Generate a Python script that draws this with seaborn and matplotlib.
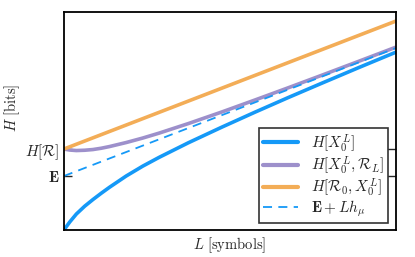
import numpy as np
import pandas as pd
import matplotlib
matplotlib.use('Agg')
import matplotlib.pyplot as plt
import seaborn as sns

#data (L in symbols, H in bits)
L_curve = [0, 0.35, 0.75, 1.25, 1.75, 2.25, 2.75, 3.75, 4.75, 5.75, 7.5, 9.5, 11.5, 13.5, 15.5, 17.75, 20]
H_X = [0.0, 0.8, 1.6, 2.38, 3.05, 3.68, 4.28, 5.4, 6.39, 7.28, 8.73, 10.28, 11.78, 13.24, 14.66, 16.24, 17.79]
H_XR = [8.1, 8.0, 7.95, 7.98, 8.05, 8.18, 8.35, 8.75, 9.2, 9.7, 10.65, 11.8, 13.0, 14.22, 15.46, 16.87, 18.29]
L_line = [0, 20]
H_RX = [8.1, 20.9]
E_line = [5.4, 18.2]
tick_vals = [5.4, 8.1]
tick_labels = [r'$\mathbf{E}$', r'$H[\mathcal{R}]$']

sns.set_style('ticks')
plt.rcParams['mathtext.fontset'] = 'cm'
plt.rcParams['font.family'] = ['DejaVu Serif']

blue = '#1599f7'
purple = '#9d90cb'
orange = '#f3ad57'

fig = plt.figure(figsize=(4.15, 2.57), dpi=100)
ax = fig.add_axes([0.154, 0.105, 0.8, 0.848])

sns.lineplot(x=L_curve, y=H_X, color=blue, lw=2.6, ax=ax, label=r'$H[X_0^L]$')
sns.lineplot(x=L_curve, y=H_XR, color=purple, lw=2.6, ax=ax, label=r'$H[X_0^L,\mathcal{R}_L]$')
sns.lineplot(x=L_line, y=H_RX, color=orange, lw=2.6, ax=ax, label=r'$H[\mathcal{R}_0,X_0^L]$')
sns.lineplot(x=L_line, y=E_line, color=blue, lw=1.3, ax=ax, label=r'$\mathbf{E}+Lh_\mu$')
ax.lines[-1].set_dashes([5, 3.5])

ax.set_xlim(0, 20)
ax.set_ylim(0, 21.8)
ax.set_xticks([])
ax.set_yticks(tick_vals)
ax.set_yticklabels(tick_labels, fontsize=11)
ax.tick_params(axis='y', direction='in', length=5.5, width=1, left=True, right=True, pad=3)
for s in ax.spines.values():
    s.set_visible(True)
    s.set_linewidth(1.3)
    s.set_color('black')

ax.set_xlabel(r'$L\ [\mathrm{symbols}]$', fontsize=10.5)
ax.set_ylabel(r'$H\ [\mathrm{bits}]$', fontsize=10.5)
ax.yaxis.set_label_coords(-0.125, 0.56)
ax.xaxis.set_label_coords(0.5, -0.025)

leg = ax.legend(loc='lower right', bbox_to_anchor=(0.976, 0.032), borderaxespad=0,
                fancybox=False, frameon=True, fontsize=11, handlelength=2.3,
                labelspacing=0.02, borderpad=0.25, handletextpad=0.85)
leg.get_frame().set_edgecolor('black')
leg.get_frame().set_linewidth(1.2)
for h in leg.get_lines()[:3]:
    h.set_linewidth(3)

fig.savefig('out.png', dpi=100)
